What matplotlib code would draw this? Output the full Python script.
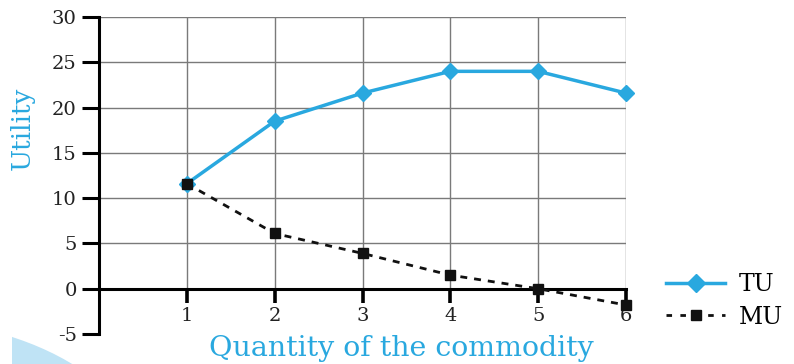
import matplotlib
matplotlib.use("Agg")
import matplotlib.pyplot as plt
from matplotlib.patches import Ellipse, Rectangle
from matplotlib.lines import Line2D

quantity = [1, 2, 3, 4, 5, 6]
tu = [11.6, 18.5, 21.6, 24, 24, 21.6]
mu = [11.6, 6.1, 3.9, 1.5, 0, -1.8]
y_ticks = [-5, 0, 5, 10, 15, 20, 25, 30]
x_ticks = [1, 2, 3, 4, 5, 6]

cyan = "#29a8df"
serif = ["DejaVu Serif"]

fig = plt.figure(figsize=(7.94, 3.64), dpi=100)

# decorative light-blue swoosh bottom-left
bg = fig.add_axes([0, 0, 1, 1], zorder=-10)
bg.set_xlim(0, 794); bg.set_ylim(364, 0); bg.axis("off")
sw = Ellipse((-100, 480), 500, 320, color="#bfe3f5", lw=0)
bg.add_patch(sw)
clip = Rectangle((12, 0), 800, 364, transform=bg.transData, visible=False)
bg.add_patch(clip)
sw.set_clip_path(clip)

ax = fig.add_axes([99/794, 30/364, 527/794, 317/364])
ax.patch.set_alpha(0)
ax.set_xlim(0, 6)
ax.set_ylim(-5, 30)

# grid
for y in y_ticks[2:]:
    ax.plot([0, 6], [y, y], color="#7a7a7a", lw=1, zorder=1)
for x in x_ticks:
    ax.plot([x, x], [0, 30], color="#7a7a7a", lw=1, zorder=1)

ax.plot(quantity, tu, color=cyan, lw=2.5, marker="D", ms=8, zorder=3, clip_on=False)
ax.plot(quantity, mu, color="#111111", lw=2, ls=(0, (2.5, 2.5)), marker="s", ms=7.5,
        zorder=4, clip_on=False)

for s in ["top", "right"]:
    ax.spines[s].set_visible(False)
ax.spines["left"].set_linewidth(2.2)
ax.spines["bottom"].set_position(("data", 0))
ax.spines["bottom"].set_linewidth(2.2)

ax.set_yticks(y_ticks)
ax.set_yticklabels([str(v) for v in y_ticks], family=serif, fontsize=14, color="#222222")
ax.set_xticks(x_ticks)
ax.set_xticklabels([str(v) for v in x_ticks], family=serif, fontsize=14, color="#222222")
ax.tick_params(axis="y", direction="out", length=12, width=2.2, pad=4)
ax.tick_params(axis="x", direction="out", length=10, width=2.6, pad=3)

fig.text(22/794, 1 - 128/364, "Utility", rotation=90, color=cyan, family=serif,
         fontsize=19, ha="center", va="center")
fig.text(401/794, 1 - 349/364, "Quantity of the commodity", color=cyan, family=serif,
         fontsize=20.5, ha="center", va="center")

handles = [
    Line2D([], [], color=cyan, lw=2.5, marker="D", ms=9),
    Line2D([], [], color="#111111", lw=2, ls=(0, (2, 3)), marker="s", ms=7.5),
]
fig.legend(handles, ["TU", "MU"], loc="center left", bbox_to_anchor=(666/794, 1 - 301/364),
           frameon=False, prop={"family": serif, "size": 17}, handlelength=2.5,
           handletextpad=0.6, labelspacing=0.4, borderpad=0, borderaxespad=0)

fig.savefig("out.png", dpi=100)
